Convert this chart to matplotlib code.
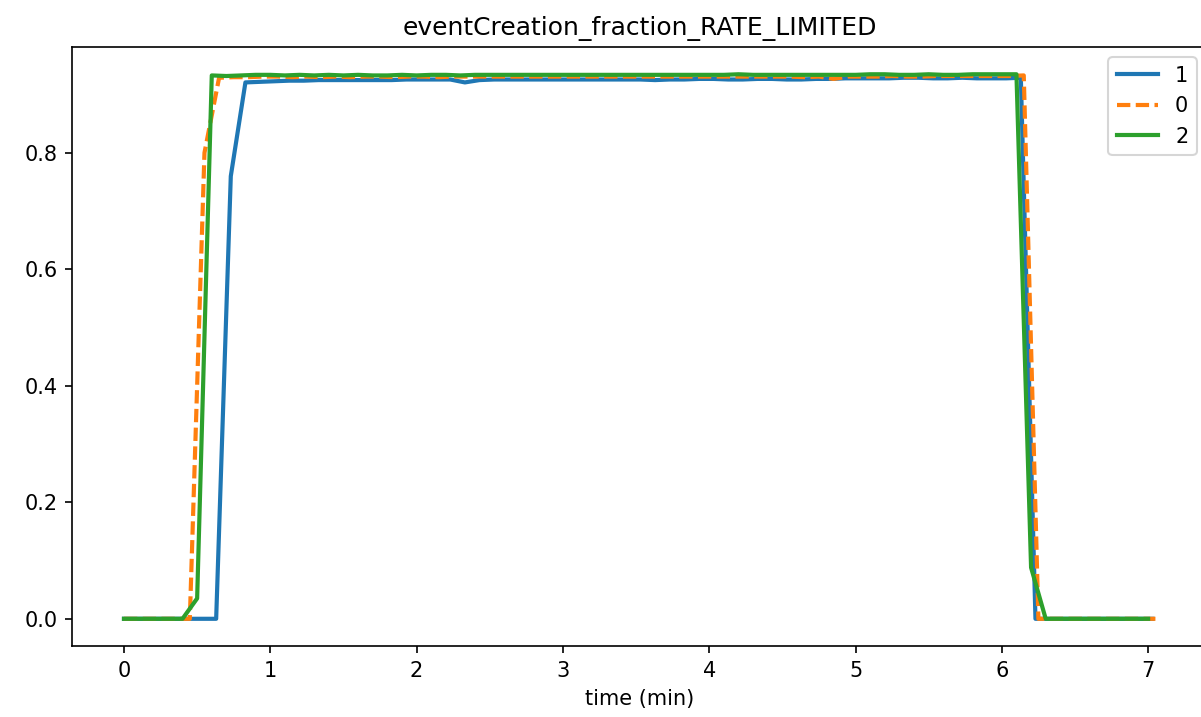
import numpy as np
import matplotlib
matplotlib.use("Agg")
import matplotlib.pyplot as plt

# sample times (min), one reading roughly every 6 s
time_1 = np.concatenate([[0.0], 0.03 + 0.1 * np.arange(1, 71)])
time_0 = np.concatenate([[0.0], 0.05 + 0.1 * np.arange(1, 71)])
time_2 = 0.1 * np.arange(71)

# series "1" (blue)
frac_1 = [0, 0, 0, 0, 0, 0, 0, 0.76, 0.921,
          0.922, 0.923, 0.924, 0.924, 0.925, 0.925, 0.925, 0.925, 0.925, 0.925,
          0.926, 0.926, 0.926, 0.926, 0.921, 0.925, 0.926, 0.926, 0.926, 0.926,
          0.926, 0.926, 0.926, 0.926, 0.926, 0.926, 0.926, 0.925, 0.926, 0.926,
          0.927, 0.927, 0.926, 0.926, 0.927, 0.927, 0.926, 0.926, 0.927, 0.927,
          0.928, 0.928, 0.928, 0.928, 0.929, 0.929, 0.928, 0.928, 0.929, 0.928,
          0.928, 0.928, 0.929,
          0, 0, 0, 0, 0, 0, 0, 0, 0]

# series "0" (orange, dashed)
frac_0 = [0, 0, 0, 0, 0, 0.80,
          0.929, 0.930, 0.930, 0.931, 0.931, 0.930, 0.931, 0.930, 0.931, 0.930,
          0.931, 0.931, 0.930, 0.931, 0.931, 0.930, 0.931, 0.931, 0.931, 0.931,
          0.931, 0.931, 0.931, 0.931, 0.931, 0.931, 0.931, 0.931, 0.931, 0.931,
          0.931, 0.931, 0.931, 0.931, 0.931, 0.931, 0.931, 0.931, 0.931, 0.931,
          0.930, 0.931, 0.927, 0.931, 0.931, 0.931, 0.932, 0.931, 0.931, 0.932,
          0.932, 0.932, 0.932, 0.932, 0.932, 0.933,
          0, 0, 0, 0, 0, 0, 0, 0, 0]

# series "2" (green)
frac_2 = [0, 0, 0, 0, 0, 0.035,
          0.933, 0.932, 0.933, 0.934, 0.934, 0.933, 0.934, 0.933, 0.934, 0.933,
          0.934, 0.933, 0.933, 0.934, 0.933, 0.934, 0.934, 0.933, 0.934, 0.934,
          0.934, 0.934, 0.934, 0.934, 0.934, 0.934, 0.934, 0.934, 0.934, 0.934,
          0.934, 0.934, 0.934, 0.934, 0.934, 0.934, 0.935, 0.934, 0.934, 0.934,
          0.934, 0.934, 0.934, 0.934, 0.934, 0.935, 0.935, 0.934, 0.934, 0.935,
          0.934, 0.934, 0.935, 0.935, 0.935, 0.935,
          0.088, 0, 0, 0, 0, 0, 0, 0, 0]

fig = plt.figure(figsize=(1201 / 150, 717 / 150), dpi=150)
ax = fig.add_axes([0.0603, 0.099, 0.9447, 0.8354])

lw = 2.0
ax.plot(time_1, frac_1, color="tab:blue", lw=lw, label="1")
ax.plot(time_0, frac_0, color="tab:orange", lw=lw, dashes=(3.2, 1.3), label="0")
ax.plot(time_2, frac_2, color="tab:green", lw=lw, label="2")

ax.set_title("eventCreation_fraction_RATE_LIMITED")
ax.set_xlabel("time (min)")
ax.legend(loc="upper right")

fig.savefig("out.png", dpi=150)
